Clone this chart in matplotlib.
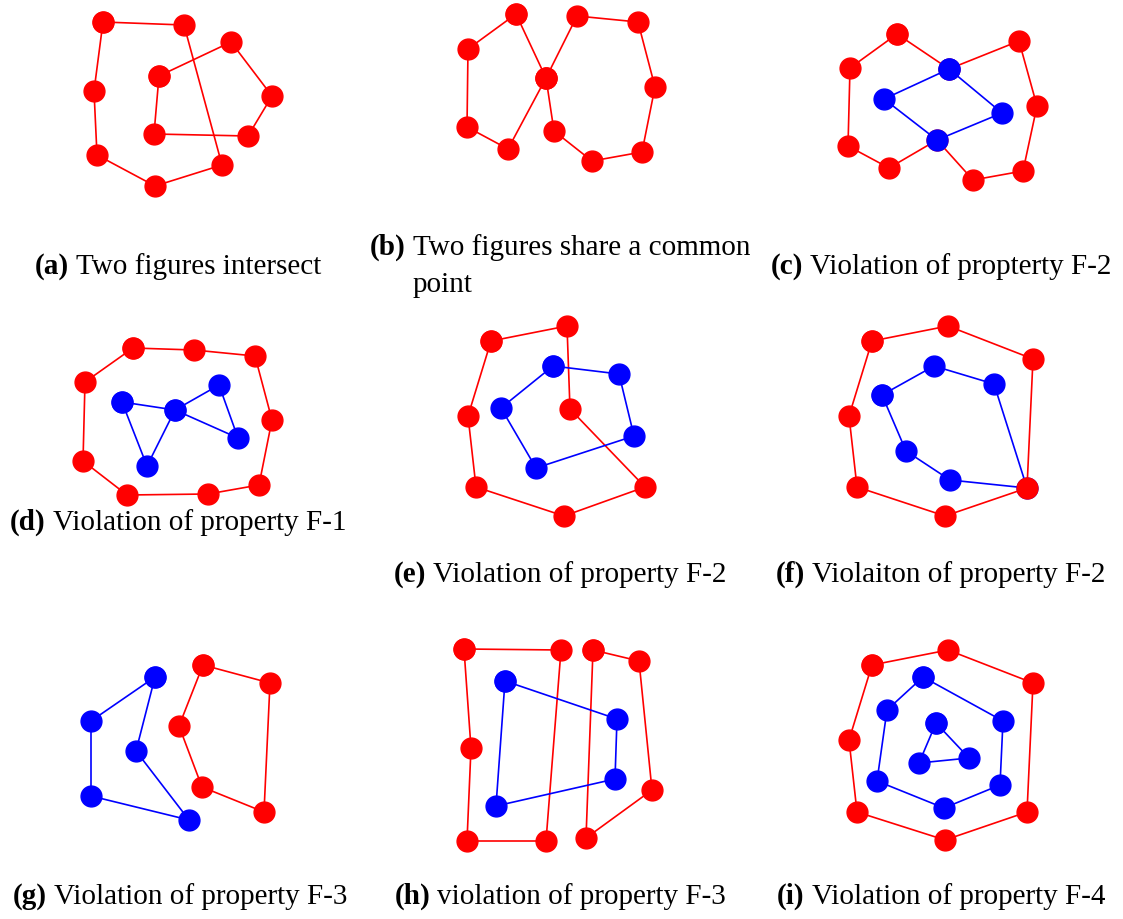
import matplotlib.pyplot as plt

RED = "#ff0000"
BLUE = "#0000ff"

# vertex lists, one per closed figure (x right, y down)
a_left = [(103, 23), (184, 26), (222, 166), (155, 187), (97, 156), (94, 92)]
a_right = [(159, 77), (231, 43), (272, 97), (248, 137), (154, 135)]

b_left = [(516, 15), (546, 79), (508, 150), (467, 128), (468, 50)]
b_right = [(546, 79), (577, 17), (638, 23), (655, 88), (642, 153), (592, 162), (554, 132)]

c_red = [(897, 35), (949, 70), (1019, 42), (1037, 107), (1023, 172), (973, 181),
         (937, 141), (889, 169), (848, 147), (850, 69)]
c_blue = [(949, 70), (1002, 114), (937, 141), (884, 100)]

d_red = [(133, 349), (194, 351), (255, 357), (272, 421), (259, 486), (208, 495),
         (127, 496), (83, 462), (85, 383)]
d_blue = [(122, 403), (175, 411), (219, 386), (238, 439), (175, 411), (147, 467)]

e_red = [(491, 342), (567, 327), (570, 410), (645, 488), (564, 517), (476, 488), (468, 417)]
e_blue = [(553, 367), (619, 375), (634, 437), (536, 469), (501, 409)]

f_red = [(872, 342), (948, 327), (1033, 360), (1027, 489), (945, 517), (857, 488), (849, 417)]
f_blue = [(882, 396), (934, 367), (994, 385), (1027, 489), (950, 481), (906, 452)]

g_blue = [(155, 678), (91, 722), (91, 797), (189, 821), (136, 752)]
g_red = [(203, 666), (270, 684), (264, 813), (202, 788), (179, 727)]

h_red1 = [(464, 650), (561, 651), (546, 842), (467, 842), (471, 749)]
h_red2 = [(593, 651), (639, 662), (652, 791), (586, 839)]
h_blue = [(505, 682), (617, 720), (615, 780), (496, 807)]

i_red = [(872, 666), (948, 651), (1033, 684), (1027, 813), (945, 841), (857, 813), (849, 741)]
i_blue = [(923, 678), (1003, 722), (1000, 786), (944, 809), (877, 782), (887, 711)]
i_inner = [(936, 724), (969, 759), (919, 764)]

# figures in drawing order
figures = [
    (a_left, RED), (a_right, RED),
    (b_left, RED), (b_right, RED),
    (c_red, RED), (c_blue, BLUE),
    (d_red, RED), (d_blue, BLUE),
    (e_red, RED), (e_blue, BLUE),
    (f_blue, BLUE), (f_red, RED),
    (g_blue, BLUE), (g_red, RED),
    (h_red1, RED), (h_red2, RED), (h_blue, BLUE),
    (i_red, RED), (i_blue, BLUE), (i_inner, BLUE),
]

# caption: (column centre x, baseline y, tag, text lines)
captions = [
    (178, 274, "(a)", ["Two figures intersect"]),
    (560, 255, "(b)", ["Two figures share a common", "point"]),
    (941, 274, "(c)", ["Violation of propterty F-2"]),
    (178, 530, "(d)", ["Violation of property F-1"]),
    (560, 582, "(e)", ["Violation of property F-2"]),
    (941, 582, "(f)", ["Violaiton of property F-2"]),
    (180, 904, "(g)", ["Violation of property F-3"]),
    (560, 904, "(h)", ["violation of property F-3"]),
    (941, 904, "(i)", ["Violation of property F-4"]),
]

plt.rcParams["font.family"] = ["Liberation Serif", "DejaVu Serif"]

fig = plt.figure(figsize=(11.23, 9.2), dpi=100)
ax = fig.add_axes([0, 0, 1, 1])
ax.set_xlim(0, 1123)
ax.set_ylim(920, 0)
ax.axis("off")

for pts, color in figures:
    xs = [p[0] for p in pts] + [pts[0][0]]
    ys = [p[1] for p in pts] + [pts[0][1]]
    ax.plot(xs, ys, color=color, linewidth=1.2, marker="o", markersize=15,
            markerfacecolor=color, markeredgecolor=color)

# one axis unit is one pixel, so text extents can be used directly
renderer = fig.canvas.get_renderer()
gap = 7
for cx, y, tag, lines in captions:
    t = ax.text(0, y, tag, fontsize=21, fontweight="bold", va="baseline", ha="left")
    body = [ax.text(0, y + k * 37, line, fontsize=21, va="baseline", ha="left")
            for k, line in enumerate(lines)]
    wt = t.get_window_extent(renderer).width
    wb = max(b.get_window_extent(renderer).width for b in body)
    x0 = cx - (wt + gap + wb) / 2
    t.set_x(x0)
    for b in body:
        b.set_x(x0 + wt + gap)

fig.savefig("out.png", dpi=100)
